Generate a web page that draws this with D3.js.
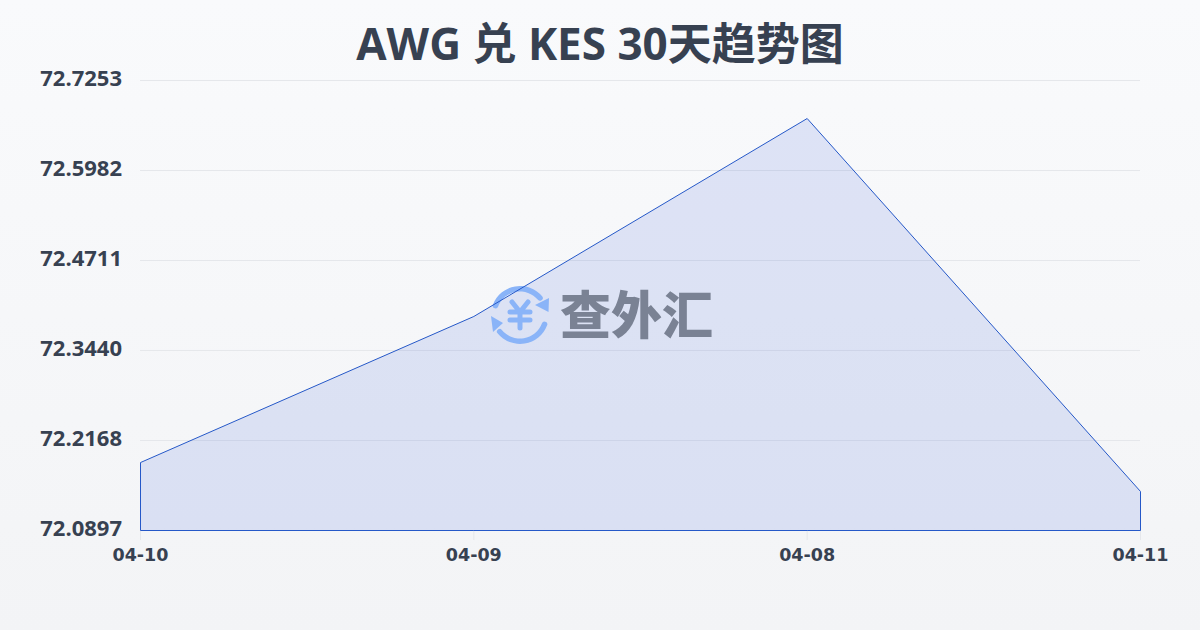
<!DOCTYPE html>
<html>
<head>
<meta charset="utf-8">
<script src="https://cdn.jsdelivr.net/npm/d3@7"></script>
<style>
  html, body { margin: 0; padding: 0; }
  text { font-family: "Open Sans", "Noto Sans CJK SC", sans-serif; }
</style>
</head>
<body>
<div id="chart"></div>
<script>
var titleText = 'AWG 兑 KES 30天趋势图';
var dates = ['04-10', '04-09', '04-08', '04-11'];
var rates = [72.1857, 72.392, 72.6716, 72.1448];
var yTicks = [72.0897, 72.2168, 72.344, 72.4711, 72.5982, 72.7253];
var yTickLabels = ['72.0897', '72.2168', '72.3440', '72.4711', '72.5982', '72.7253'];

var width = 1200;
var height = 630;
var margin = { top: 80, right: 60, bottom: 100, left: 140 };
var iconColor = '#8ab4f8';

var svg = d3.select('#chart').append('svg')
    .attr('width', width)
    .attr('height', height)
    .style('display', 'block');

var defs = svg.append('defs');
var bg = defs.append('linearGradient')
    .attr('id', 'bg')
    .attr('x1', 0).attr('y1', 0).attr('x2', 0).attr('y2', 1);
bg.append('stop').attr('offset', '0%').attr('stop-color', '#f9fafc');
bg.append('stop').attr('offset', '100%').attr('stop-color', '#f3f4f6');

svg.append('rect')
    .attr('width', width)
    .attr('height', height)
    .attr('fill', 'url(#bg)');

var x = d3.scalePoint()
    .domain(dates)
    .range([margin.left, width - margin.right]);

var y = d3.scaleLinear()
    .domain([yTicks[0], yTicks[yTicks.length - 1]])
    .range([height - margin.bottom, margin.top]);

// grid lines
svg.append('g').selectAll('line')
    .data(yTicks)
    .enter()
    .append('line')
    .attr('x1', margin.left)
    .attr('x2', width - margin.right)
    .attr('y1', function (d) { return y(d) + 0.5; })
    .attr('y2', function (d) { return y(d) + 0.5; })
    .attr('stroke', '#e5e7eb')
    .attr('stroke-width', 1);

// x ticks
svg.append('g').selectAll('line')
    .data(dates)
    .enter()
    .append('line')
    .attr('x1', function (d) { return x(d) + 0.5; })
    .attr('x2', function (d) { return x(d) + 0.5; })
    .attr('y1', height - margin.bottom)
    .attr('y2', height - margin.bottom + 10)
    .attr('stroke', '#e5e7eb');

var area = d3.area()
    .x(function (d, i) { return x(dates[i]) + 0.5; })
    .y0(y(yTicks[0]) + 0.5)
    .y1(function (d) { return y(d) + 0.5; });

svg.append('path')
    .datum(rates)
    .attr('d', area)
    .attr('fill', '#1d4ed8')
    .attr('fill-opacity', 0.12);

// watermark
var mark = svg.append('g').attr('transform', 'translate(520,315)');
var ring = d3.arc().innerRadius(23.5).outerRadius(29).cornerRadius(2.7);
[[-1.31, 0.97], [1.83, 4.13]].forEach(function (a) {
    mark.append('path')
        .attr('d', ring({ startAngle: a[0], endAngle: a[1] }))
        .attr('fill', iconColor);
});
mark.append('path').attr('d', 'M15,-10L29,-17L28.5,-3Z').attr('fill', iconColor);
mark.append('path').attr('d', 'M-29,1L-27,17L-17,8Z').attr('fill', iconColor);
mark.append('path')
    .attr('d', 'M-8,-13L0,-3L8,-13M-10,-3H10M-10,5H10M0,-3V13')
    .attr('fill', 'none')
    .attr('stroke', iconColor)
    .attr('stroke-width', 5)
    .attr('stroke-linecap', 'round')
    .attr('stroke-linejoin', 'round');
svg.append('text')
    .attr('x', 560)
    .attr('y', 334)
    .attr('font-size', 51)
    .attr('font-weight', 900)
    .style('font-family', '"Noto Sans CJK SC", sans-serif')
    .attr('fill', '#7a8294')
    .text('查外汇');

svg.append('path')
    .datum(rates)
    .attr('d', function (d) { return area(d) + 'Z'; })
    .attr('fill', 'none')
    .attr('stroke', '#2558c8')
    .attr('stroke-width', 1);

// y labels
svg.append('g').selectAll('text')
    .data(yTicks)
    .enter()
    .append('text')
    .attr('x', 122)
    .attr('y', function (d) { return y(d) + 6; })
    .attr('text-anchor', 'end')
    .attr('font-size', 22)
    .attr('font-weight', 700)
    .attr('fill', '#374151')
    .text(function (d, i) { return yTickLabels[i]; });

// x labels
svg.append('g').selectAll('text')
    .data(dates)
    .enter()
    .append('text')
    .attr('x', function (d) { return x(d) + 0.5; })
    .attr('y', 561)
    .attr('text-anchor', 'middle')
    .attr('font-size', 17.5)
    .attr('font-weight', 700)
    .style('font-family', '"DejaVu Sans", sans-serif')
    .attr('fill', '#374151')
    .text(function (d) { return d; });

svg.append('text')
    .attr('x', 600)
    .attr('y', 60)
    .attr('text-anchor', 'middle')
    .attr('font-size', 44)
    .attr('font-weight', 700)
    .attr('fill', '#374151')
    .text(titleText);
</script>
</body>
</html>
